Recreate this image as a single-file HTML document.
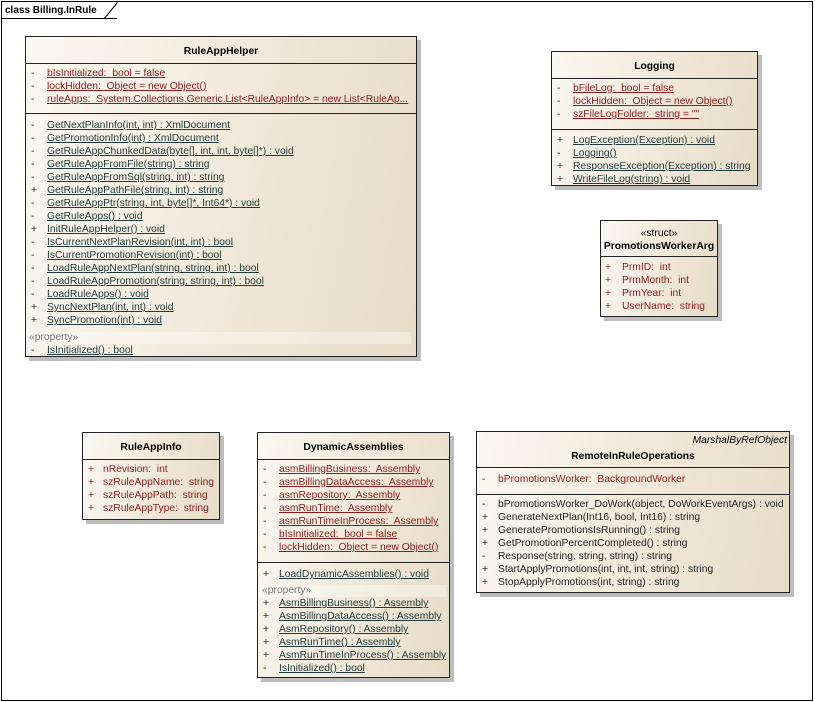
<!DOCTYPE html>
<html><head><meta charset="utf-8"><style>
*{margin:0;padding:0;box-sizing:border-box}
body{width:815px;height:702px;background:#fff;position:relative;overflow:hidden;font-family:"Liberation Sans",Arial,sans-serif;font-size:10px}
.frame{position:absolute;left:1px;top:1px;width:812px;height:700px;border:1px solid #000}
.tab{position:absolute;left:1px;top:1px;height:18px;width:116px;border-bottom:1px solid #000;font-weight:bold;font-size:10px;line-height:19px;padding-left:4px}
.box{position:absolute;border:1px solid #222;background:linear-gradient(100deg,#fbf8f2 0%,#efe6d6 60%,#e6dcc8 100%);box-shadow:4px 4px 0 #bdbdbd}
.sep{position:absolute;height:1px;background:#222}
.t{position:absolute;height:13px;line-height:13px;white-space:nowrap;font-size:10.3px;margin-top:2px}
.h{font-weight:bold;text-align:center}
.a{color:#8a1c1c}
.m{color:#1f3a3a}
.u{text-decoration:underline}
.s{color:#222}
.pb{position:absolute;background:rgba(255,255,255,0.35);height:12px;margin-top:2px}
.g{color:#777}
</style></head><body>
<div class="frame"></div>
<div class="tab">class Billing.InRule</div>
<svg style="position:absolute;left:0;top:0" width="130" height="22"><line x1="104" y1="19" x2="117" y2="3" stroke="#000"/><line x1="117" y1="1" x2="117" y2="3" stroke="#000"/></svg>

<!-- RuleAppHelper -->
<div class="box" style="left:25px;top:36px;width:392px;height:321px"></div>
<div class="t h" style="left:25px;top:43px;width:392px">RuleAppHelper</div>
<div class="sep" style="left:25px;top:63px;width:392px"></div>
<div class="sep" style="left:25px;top:113px;width:392px"></div>
<div class="t s" style="left:31px;top:65px">-</div><div class="t a u" style="left:47px;top:65px">bIsInitialized:&nbsp; bool = false</div>
<div class="t s" style="left:31px;top:78px">-</div><div class="t a u" style="left:47px;top:78px">lockHidden:&nbsp; Object = new Object()</div>
<div class="t s" style="left:31px;top:91px">-</div><div class="t a u" style="left:47px;top:91px">ruleApps:&nbsp; System.Collections.Generic.List&lt;RuleAppInfo&gt; = new List&lt;RuleAp...</div>
<div class="t s" style="left:31px;top:117px">-</div><div class="t m u" style="left:47px;top:117px">GetNextPlanInfo(int, int) : XmlDocument</div>
<div class="t s" style="left:31px;top:130px">-</div><div class="t m u" style="left:47px;top:130px">GetPromotionInfo(int) : XmlDocument</div>
<div class="t s" style="left:31px;top:143px">-</div><div class="t m u" style="left:47px;top:143px">GetRuleAppChunkedData(byte[], int, int, byte[]*) : void</div>
<div class="t s" style="left:31px;top:156px">-</div><div class="t m u" style="left:47px;top:156px">GetRuleAppFromFile(string) : string</div>
<div class="t s" style="left:31px;top:169px">-</div><div class="t m u" style="left:47px;top:169px">GetRuleAppFromSql(string, int) : string</div>
<div class="t s" style="left:31px;top:182px">+</div><div class="t m u" style="left:47px;top:182px">GetRuleAppPathFile(string, int) : string</div>
<div class="t s" style="left:31px;top:195px">-</div><div class="t m u" style="left:47px;top:195px">GetRuleAppPtr(string, int, byte[]*, Int64*) : void</div>
<div class="t s" style="left:31px;top:208px">-</div><div class="t m u" style="left:47px;top:208px">GetRuleApps() : void</div>
<div class="t s" style="left:31px;top:221px">+</div><div class="t m u" style="left:47px;top:221px">InitRuleAppHelper() : void</div>
<div class="t s" style="left:31px;top:234px">-</div><div class="t m u" style="left:47px;top:234px">IsCurrentNextPlanRevision(int, int) : bool</div>
<div class="t s" style="left:31px;top:247px">-</div><div class="t m u" style="left:47px;top:247px">IsCurrentPromotionRevision(int) : bool</div>
<div class="t s" style="left:31px;top:260px">-</div><div class="t m u" style="left:47px;top:260px">LoadRuleAppNextPlan(string, string, int) : bool</div>
<div class="t s" style="left:31px;top:273px">-</div><div class="t m u" style="left:47px;top:273px">LoadRuleAppPromotion(string, string, int) : bool</div>
<div class="t s" style="left:31px;top:286px">-</div><div class="t m u" style="left:47px;top:286px">LoadRuleApps() : void</div>
<div class="t s" style="left:31px;top:299px">+</div><div class="t m u" style="left:47px;top:299px">SyncNextPlan(int, int) : void</div>
<div class="t s" style="left:31px;top:312px">+</div><div class="t m u" style="left:47px;top:312px">SyncPromotion(int) : void</div>
<div class="pb" style="left:26px;top:330px;width:385px"></div>
<div class="t g" style="left:29px;top:329px">«property»</div>
<div class="t s" style="left:31px;top:342px">-</div><div class="t m u" style="left:47px;top:342px">IsInitialized() : bool</div>

<!-- Logging -->
<div class="box" style="left:551px;top:51px;width:207px;height:135px"></div>
<div class="t h" style="left:551px;top:58px;width:207px">Logging</div>
<div class="sep" style="left:551px;top:78px;width:207px"></div>
<div class="sep" style="left:551px;top:129px;width:207px"></div>
<div class="t s" style="left:557px;top:80px">-</div><div class="t a u" style="left:573px;top:80px">bFileLog:&nbsp; bool = false</div>
<div class="t s" style="left:557px;top:93px">-</div><div class="t a u" style="left:573px;top:93px">lockHidden:&nbsp; Object = new Object()</div>
<div class="t s" style="left:557px;top:106px">-</div><div class="t a u" style="left:573px;top:106px">szFileLogFolder:&nbsp; string = ""</div>
<div class="t s" style="left:557px;top:132px">+</div><div class="t m u" style="left:573px;top:132px">LogException(Exception) : void</div>
<div class="t s" style="left:557px;top:145px">-</div><div class="t m u" style="left:573px;top:145px">Logging()</div>
<div class="t s" style="left:557px;top:158px">+</div><div class="t m u" style="left:573px;top:158px">ResponseException(Exception) : string</div>
<div class="t s" style="left:557px;top:171px">+</div><div class="t m u" style="left:573px;top:171px">WriteFileLog(string) : void</div>

<!-- PromotionsWorkerArg -->
<div class="box" style="left:600px;top:220px;width:118px;height:97px"></div>
<div class="t" style="left:600px;top:225px;width:118px;text-align:center">«struct»</div>
<div class="t h" style="left:600px;top:238px;width:118px">PromotionsWorkerArg</div>
<div class="sep" style="left:600px;top:256px;width:118px"></div>
<div class="t a" style="left:605px;top:259px">+</div><div class="t a" style="left:622px;top:259px">PrmID:&nbsp; int</div>
<div class="t a" style="left:605px;top:272px">+</div><div class="t a" style="left:622px;top:272px">PrmMonth:&nbsp; int</div>
<div class="t a" style="left:605px;top:285px">+</div><div class="t a" style="left:622px;top:285px">PrmYear:&nbsp; int</div>
<div class="t a" style="left:605px;top:298px">+</div><div class="t a" style="left:622px;top:298px">UserName:&nbsp; string</div>

<!-- RuleAppInfo -->
<div class="box" style="left:82px;top:432px;width:138px;height:88px"></div>
<div class="t h" style="left:82px;top:439px;width:138px">RuleAppInfo</div>
<div class="sep" style="left:82px;top:459px;width:138px"></div>
<div class="t a" style="left:88px;top:461px">+</div><div class="t a" style="left:103px;top:461px">nRevision:&nbsp; int</div>
<div class="t a" style="left:88px;top:474px">+</div><div class="t a" style="left:103px;top:474px">szRuleAppName:&nbsp; string</div>
<div class="t a" style="left:88px;top:487px">+</div><div class="t a" style="left:103px;top:487px">szRuleAppPath:&nbsp; string</div>
<div class="t a" style="left:88px;top:500px">+</div><div class="t a" style="left:103px;top:500px">szRuleAppType:&nbsp; string</div>

<!-- DynamicAssemblies -->
<div class="box" style="left:257px;top:432px;width:193px;height:246px"></div>
<div class="t h" style="left:257px;top:439px;width:193px">DynamicAssemblies</div>
<div class="sep" style="left:257px;top:459px;width:193px"></div>
<div class="sep" style="left:257px;top:562px;width:193px"></div>
<div class="t s" style="left:263px;top:461px">-</div><div class="t a u" style="left:279px;top:461px">asmBillingBusiness:&nbsp; Assembly</div>
<div class="t s" style="left:263px;top:474px">-</div><div class="t a u" style="left:279px;top:474px">asmBillingDataAccess:&nbsp; Assembly</div>
<div class="t s" style="left:263px;top:487px">-</div><div class="t a u" style="left:279px;top:487px">asmRepository:&nbsp; Assembly</div>
<div class="t s" style="left:263px;top:500px">-</div><div class="t a u" style="left:279px;top:500px">asmRunTime:&nbsp; Assembly</div>
<div class="t s" style="left:263px;top:513px">-</div><div class="t a u" style="left:279px;top:513px">asmRunTimeInProcess:&nbsp; Assembly</div>
<div class="t s" style="left:263px;top:526px">-</div><div class="t a u" style="left:279px;top:526px">bIsInitialized:&nbsp; bool = false</div>
<div class="t s" style="left:263px;top:539px">-</div><div class="t a u" style="left:279px;top:539px">lockHidden:&nbsp; Object = new Object()</div>
<div class="t s" style="left:263px;top:566px">+</div><div class="t m u" style="left:279px;top:566px">LoadDynamicAssemblies() : void</div>
<div class="pb" style="left:258px;top:583px;width:188px"></div>
<div class="t g" style="left:262px;top:582px">«property»</div>
<div class="t s" style="left:263px;top:595px">+</div><div class="t m u" style="left:279px;top:595px">AsmBillingBusiness() : Assembly</div>
<div class="t s" style="left:263px;top:608px">+</div><div class="t m u" style="left:279px;top:608px">AsmBillingDataAccess() : Assembly</div>
<div class="t s" style="left:263px;top:621px">+</div><div class="t m u" style="left:279px;top:621px">AsmRepository() : Assembly</div>
<div class="t s" style="left:263px;top:634px">+</div><div class="t m u" style="left:279px;top:634px">AsmRunTime() : Assembly</div>
<div class="t s" style="left:263px;top:647px">+</div><div class="t m u" style="left:279px;top:647px">AsmRunTimeInProcess() : Assembly</div>
<div class="t s" style="left:263px;top:660px">-</div><div class="t m u" style="left:279px;top:660px">IsInitialized() : bool</div>

<!-- RemoteInRuleOperations -->
<div class="box" style="left:476px;top:431px;width:314px;height:162px"></div>
<div class="t" style="left:476px;top:432px;width:311px;text-align:right;font-style:italic">MarshalByRefObject</div>
<div class="t h" style="left:476px;top:448px;width:314px">RemoteInRuleOperations</div>
<div class="sep" style="left:476px;top:467px;width:314px"></div>
<div class="sep" style="left:476px;top:494px;width:314px"></div>
<div class="t s" style="left:482px;top:471px">-</div><div class="t a" style="left:498px;top:471px">bPromotionsWorker:&nbsp; BackgroundWorker</div>
<div class="t s" style="left:482px;top:496px">-</div><div class="t s" style="left:498px;top:496px">bPromotionsWorker_DoWork(object, DoWorkEventArgs) : void</div>
<div class="t s" style="left:482px;top:509px">+</div><div class="t s" style="left:498px;top:509px">GenerateNextPlan(Int16, bool, Int16) : string</div>
<div class="t s" style="left:482px;top:522px">+</div><div class="t s" style="left:498px;top:522px">GeneratePromotionsIsRunning() : string</div>
<div class="t s" style="left:482px;top:535px">+</div><div class="t s" style="left:498px;top:535px">GetPromotionPercentCompleted() : string</div>
<div class="t s" style="left:482px;top:548px">-</div><div class="t s" style="left:498px;top:548px">Response(string, string, string) : string</div>
<div class="t s" style="left:482px;top:561px">+</div><div class="t s" style="left:498px;top:561px">StartApplyPromotions(int, int, int, string) : string</div>
<div class="t s" style="left:482px;top:574px">+</div><div class="t s" style="left:498px;top:574px">StopApplyPromotions(int, string) : string</div>
</body></html>
